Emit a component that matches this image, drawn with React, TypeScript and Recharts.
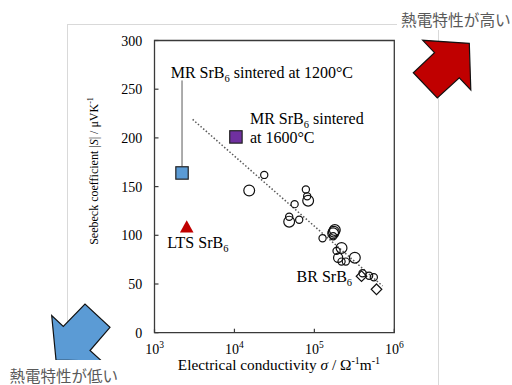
import React from 'react';
import {
  ScatterChart,
  Scatter,
  XAxis,
  YAxis,
  ReferenceArea,
  ReferenceLine,
  ReferenceDot,
} from 'recharts';

const FONT = "'Liberation Serif', 'Times New Roman', 'DejaVu Serif', serif";
const JP_FONT = "'Noto Sans CJK JP', 'Noto Sans CJK SC', sans-serif";
const AXIS = '#3a3a3a';
const MARK = '#111';
const serif = { fontFamily: FONT };

const xTicks = [1000, 10000, 100000, 1000000];
const xTickExponents = ['3', '4', '5', '6'];
const yTicks = [0, 50, 100, 150, 200, 250, 300];

const brSmallCircles = [
  { sigma: 23600, s: 162 },
  { sigma: 78300, s: 147 },
  { sigma: 81300, s: 140 },
  { sigma: 56600, s: 132 },
  { sigma: 48400, s: 119 },
  { sigma: 64600, s: 116 },
  { sigma: 126600, s: 97 },
  { sigma: 171800, s: 99 },
  { sigma: 189500, s: 84 },
  { sigma: 218800, s: 73 },
  { sigma: 247600, s: 73 },
  { sigma: 400400, s: 61 },
  { sigma: 484200, s: 58.5 },
  { sigma: 554300, s: 57 },
];
const brLargeCircles = [
  { sigma: 15300, s: 146 },
  { sigma: 83600, s: 135.5 },
  { sigma: 48400, s: 114 },
  { sigma: 180300, s: 105.4 },
  { sigma: 175300, s: 103.7 },
  { sigma: 171800, s: 102 },
  { sigma: 218800, s: 87 },
  { sigma: 320900, s: 77 },
];
const brMediumCircles = [{ sigma: 198400, s: 77 }];
const brDiamonds = [
  { sigma: 389000, s: 58 },
  { sigma: 599000, s: 44.6 },
];
const mr1200 = [{ sigma: 2210, s: 164 }];
const mr1600 = [{ sigma: 10440, s: 201 }];
const lts = [{ sigma: 2530, s: 109 }];
const trendLine = [
  { sigma: 3000, s: 219 },
  { sigma: 712000, s: 48 },
];
const leaderLine = [
  { x: 2210, y: 170.5 },
  { x: 2210, y: 259 },
];

// label anchors (left / baseline) in data coordinates
const labelMR1200 = { sigma: 1594, s: 261.5 };
const labelMR1600a = { sigma: 15630, s: 214 };
const labelMR1600b = { sigma: 15630, s: 195 };
const labelLTS = { sigma: 1445, s: 87 };
const labelBR = { sigma: 59900, s: 52 };

const XTick = (props: any) => {
  const { x, y, payload } = props;
  const idx = xTicks.indexOf(payload.value);
  return (
    <g>
      <line x1={x} y1={y} x2={x} y2={y - 4} stroke={AXIS} strokeWidth={1.2} />
      <text x={x} y={y + 21} textAnchor="middle" style={serif} fontSize={14} fill="#000">
        10
        <tspan dy={-6} fontSize={9.5}>
          {xTickExponents[idx]}
        </tspan>
      </text>
    </g>
  );
};

const YTick = (props: any) => {
  const { x, y, payload } = props;
  return (
    <g>
      <line x1={x} y1={y} x2={x + 4} y2={y} stroke={AXIS} strokeWidth={1.2} />
      <text x={x - 12.2} y={y + 5} textAnchor="end" style={serif} fontSize={14} fill="#000">
        {payload.value}
      </text>
    </g>
  );
};

const XLabel = (props: any) => {
  const vb = props.viewBox || { x: 154.5, y: 332.7, width: 239.8, height: 52.3 };
  const cx = vb.x + vb.width / 2 + 4.5;
  const by = vb.y + 37.3;
  return (
    <text x={cx} y={by} textAnchor="middle" style={serif} fontSize={15.3} fill="#000">
      Electrical conductivity <tspan fontStyle="italic">σ</tspan> / Ω
      <tspan dy={-6} fontSize={10}>-1</tspan>
      <tspan dy={6}>m</tspan>
      <tspan dy={-6} fontSize={10}>-1</tspan>
    </text>
  );
};

const YLabel = (props: any) => {
  const vb = props.viewBox || { x: 0, y: 40.5, width: 154.5, height: 292.2 };
  const bx = vb.x + 97.5;
  const cy = vb.y + 130.5;
  return (
    <text
      x={bx}
      y={cy}
      transform={`rotate(-90 ${bx} ${cy})`}
      textAnchor="middle"
      style={serif}
      fontSize={12}
      fill="#000"
    >
      Seebeck coefficient{'\u00a0'}|<tspan fontStyle="italic">S</tspan>| / μVK
      <tspan dy={-5} fontSize={8}>-1</tspan>
    </text>
  );
};

const smallCircle = (p: any) => <circle cx={p.cx} cy={p.cy} r={3.6} fill="none" stroke={MARK} strokeWidth={1.2} />;
const mediumCircle = (p: any) => <circle cx={p.cx} cy={p.cy} r={4.6} fill="none" stroke={MARK} strokeWidth={1.2} />;
const largeCircle = (p: any) => <circle cx={p.cx} cy={p.cy} r={5.4} fill="none" stroke={MARK} strokeWidth={1.2} />;
const diamond = (p: any) => (
  <polygon
    points={`${p.cx},${p.cy - 5.3} ${p.cx + 5.3},${p.cy} ${p.cx},${p.cy + 5.3} ${p.cx - 5.3},${p.cy}`}
    fill="none"
    stroke={MARK}
    strokeWidth={1.2}
  />
);
const squareOf = (fill: string) => (p: any) =>
  <rect x={p.cx - 6.2} y={p.cy - 6.2} width={12.4} height={12.4} fill={fill} stroke="#222" strokeWidth={1.2} />;
const triangle = (p: any) => (
  <polygon points={`${p.cx},${p.cy - 6.2} ${p.cx + 6.8},${p.cy + 6} ${p.cx - 6.8},${p.cy + 6}`} fill="#C00000" />
);
const noShape = () => <g />;

const annText = (content: React.ReactNode) => (p: any) =>
  (
    <text x={p.cx} y={p.cy} style={serif} fontSize={16} fill="#000">
      {content}
    </text>
  );

const SrB6 = (rest: string) => (
  <>
    SrB
    <tspan dy={4} fontSize={10.5}>
      6
    </tspan>
    <tspan dy={-4}>{rest}</tspan>
  </>
);

export default function App() {
  return (
    <div
      style={{
        position: 'absolute',
        left: 0,
        top: 0,
        width: 512,
        height: 385,
        overflow: 'hidden',
        background: '#fff',
        fontFamily: FONT,
      }}
    >
      <svg width={512} height={385} style={{ position: 'absolute', left: 0, top: 0 }}>
        <rect x={67.5} y={24.5} width={371} height={400} fill="none" stroke="#d9d9d9" strokeWidth={1} />
      </svg>
      <div style={{ position: 'absolute', left: 0, top: 0 }}>
        <ScatterChart width={512} height={385} margin={{ top: 40.5, right: 117.7, bottom: 0, left: 0 }}>
          <XAxis
            type="number"
            dataKey="sigma"
            scale="log"
            domain={[1000, 1000000]}
            ticks={xTicks}
            interval={0}
            allowDataOverflow
            axisLine={false}
            tickLine={false}
            tickSize={0}
            tickMargin={0}
            height={52.3}
            tick={<XTick />}
            label={<XLabel />}
          />
          <YAxis
            type="number"
            dataKey="s"
            domain={[0, 300]}
            ticks={yTicks}
            interval={0}
            allowDataOverflow
            axisLine={false}
            tickLine={false}
            tickSize={0}
            tickMargin={0}
            width={154.5}
            tick={<YTick />}
            label={<YLabel />}
          />
          <ReferenceLine segment={leaderLine} stroke="#595959" strokeWidth={1} ifOverflow="visible" />
          <Scatter
            data={trendLine}
            line={{ stroke: '#595959', strokeWidth: 1.5, strokeDasharray: '1.5 2' }}
            shape={noShape}
            isAnimationActive={false}
          />
          <Scatter data={brSmallCircles} shape={smallCircle} isAnimationActive={false} />
          <Scatter data={brMediumCircles} shape={mediumCircle} isAnimationActive={false} />
          <Scatter data={brLargeCircles} shape={largeCircle} isAnimationActive={false} />
          <Scatter data={brDiamonds} shape={diamond} isAnimationActive={false} />
          <Scatter data={mr1200} shape={squareOf('#5B9BD5')} isAnimationActive={false} />
          <Scatter data={mr1600} shape={squareOf('#7030A0')} isAnimationActive={false} />
          <Scatter data={lts} shape={triangle} isAnimationActive={false} />
          <ReferenceArea
            x1={1000}
            x2={1000000}
            y1={0}
            y2={300}
            fill="none"
            stroke={AXIS}
            strokeWidth={1.3}
            ifOverflow="visible"
          />
          <ReferenceDot
            x={labelMR1200.sigma}
            y={labelMR1200.s}
            r={0}
            ifOverflow="visible"
            shape={annText(<>MR {SrB6(' sintered at 1200°C')}</>)}
          />
          <ReferenceDot
            x={labelMR1600a.sigma}
            y={labelMR1600a.s}
            r={0}
            ifOverflow="visible"
            shape={annText(<>MR {SrB6(' sintered')}</>)}
          />
          <ReferenceDot
            x={labelMR1600b.sigma}
            y={labelMR1600b.s}
            r={0}
            ifOverflow="visible"
            shape={annText(<>at 1600°C</>)}
          />
          <ReferenceDot
            x={labelLTS.sigma}
            y={labelLTS.s}
            r={0}
            ifOverflow="visible"
            shape={annText(<>LTS {SrB6('')}</>)}
          />
          <ReferenceDot
            x={labelBR.sigma}
            y={labelBR.s}
            r={0}
            ifOverflow="visible"
            shape={annText(<>BR {SrB6('')}</>)}
          />
        </ScatterChart>
      </div>
      <svg width={512} height={385} style={{ position: 'absolute', left: 0, top: 0, pointerEvents: 'none' }}>
        <polygon
          points="56,360 51.7,315.5 63.3,326.5 85,304 110,327.3 90,350.5 101.7,361"
          fill="#5B9BD5"
          stroke="#111"
          strokeWidth={1.2}
          strokeLinejoin="miter"
        />
        <polygon
          points="469.3,43.3 422.7,40.3 434.5,52.7 413.3,72.7 437.3,98 459.3,77.8 470.8,90"
          fill="#C00000"
          stroke="#111"
          strokeWidth={1.2}
          strokeLinejoin="miter"
        />
        <rect x={397} y={3} width={115} height={27} fill="#fff" />
        <text x={401} y={19.5} dominantBaseline="central" style={{ fontFamily: JP_FONT }} fontSize={15.7} fill="#595959">
          熱電特性が高い
        </text>
        <rect x={4} y={360} width={124} height={25} fill="#fff" />
        <text x={9.5} y={375} dominantBaseline="central" style={{ fontFamily: JP_FONT }} fontSize={15.5} fill="#595959">
          熱電特性が低い
        </text>
      </svg>
    </div>
  );
}
